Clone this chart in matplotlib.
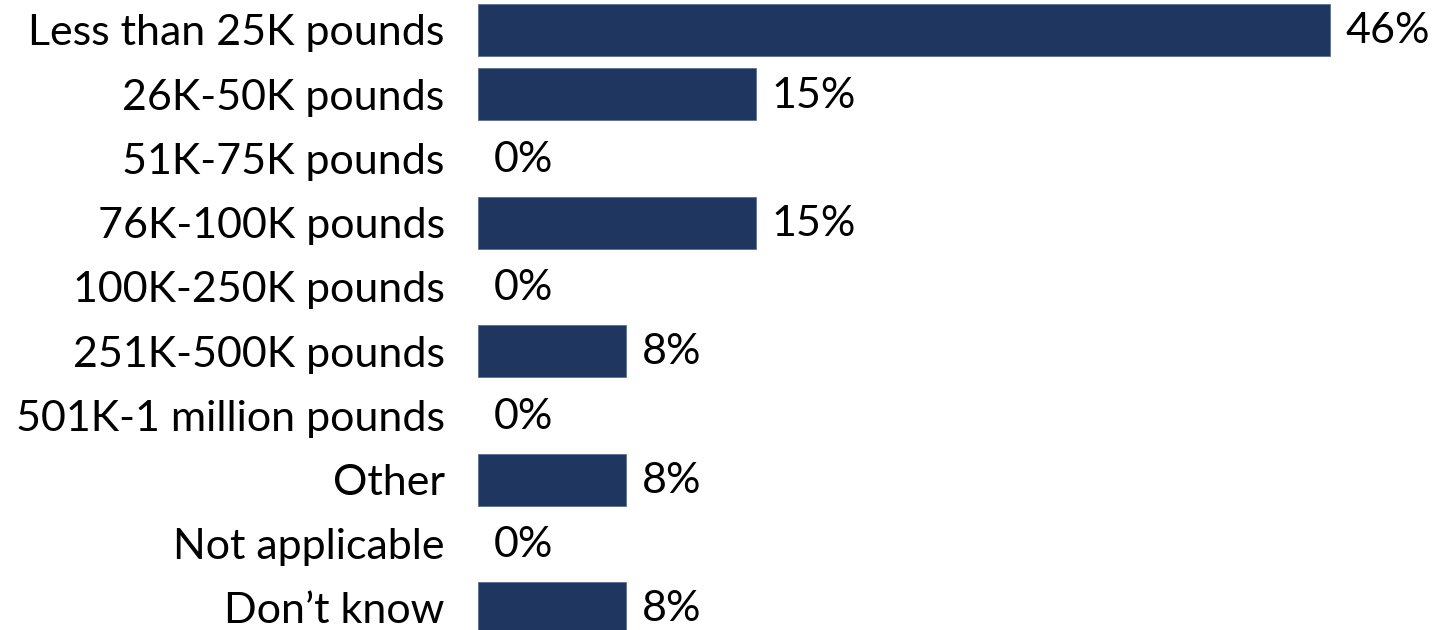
import matplotlib
matplotlib.use("Agg")
import matplotlib.pyplot as plt

categories = ["Less than 25K pounds", "26K-50K pounds", "51K-75K pounds",
              "76K-100K pounds", "100K-250K pounds", "251K-500K pounds",
              "501K-1 million pounds", "Other", "Not applicable", "Don\u2019t know"]
values = [46, 15, 0, 15, 0, 8, 0, 8, 0, 8]

bar_color = "#1F3660"
plt.rcParams['font.family'] = ['Lato', 'DejaVu Sans']

fig = plt.figure(figsize=(14.37, 6.3), dpi=100)
ax = fig.add_axes([478/1437, 0, 1 - 478/1437, 1])

y = list(range(len(categories)))
# thin lighter outline on the bars, none on the empty ones
ax.barh(y, values, height=0.81, color=bar_color, edgecolor="#5a6f93",
        linewidth=[0.6 if v else 0 for v in values])

ax.set_xlim(0, 959/18.52)
ax.set_ylim(9.343, -0.467)

for yi, v in zip(y, values):
    ax.annotate(f"{v}%", (v, yi), xytext=(11, -1), textcoords="offset points",
                ha="left", va="center", fontsize=31, color="black")

ax.set_yticks(y)
ax.set_yticklabels(categories, fontsize=31)
ax.tick_params(axis="y", length=0, pad=24)
ax.set_xticks([])
for s in ax.spines.values():
    s.set_visible(False)

fig.savefig("out.png", dpi=100)
